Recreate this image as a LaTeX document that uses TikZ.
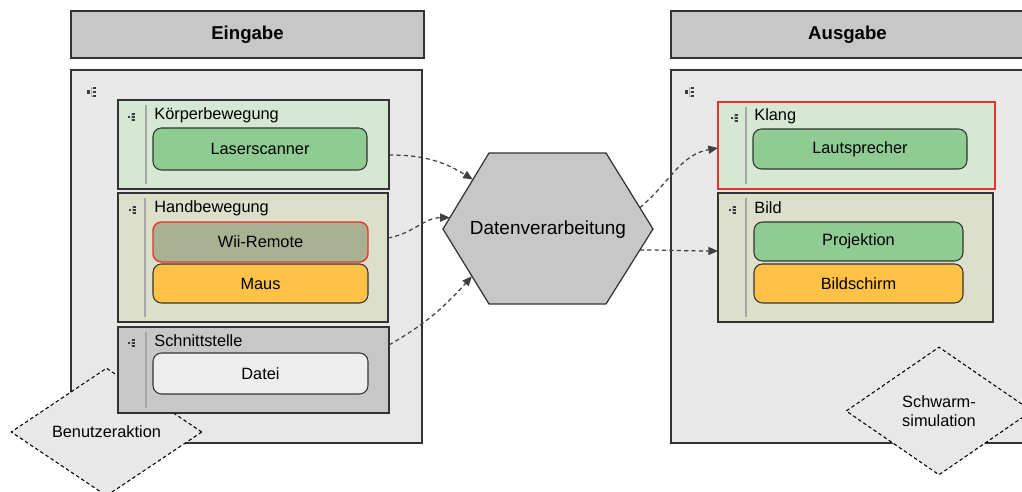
\documentclass[tikz,border=0pt]{standalone}
\usepackage{fontspec}
\setmainfont{Liberation Sans}
\usetikzlibrary{shapes.geometric,arrows.meta,calc}

\definecolor{hdrgray}{HTML}{C6C7C6}
\definecolor{panelgray}{HTML}{E8E8E8}
\definecolor{greenlight}{HTML}{D5E8D4}
\definecolor{greenbox}{HTML}{8ECC93}
\definecolor{olive}{HTML}{DCDFCA}
\definecolor{wiigray}{HTML}{A9B193}
\definecolor{orangebox}{HTML}{FFC247}
\definecolor{dateigray}{HTML}{EEEEEE}
\definecolor{redline}{HTML}{E8332A}
\definecolor{linec}{HTML}{333333}
\definecolor{arrowc}{HTML}{404040}
\definecolor{iconc}{HTML}{3A3A3A}

\newcommand{\pxu}{0.02cm}

\begin{document}
\begin{tikzpicture}[x=0.02cm,y=-0.02cm,
  sz/.style 2 args={minimum width=#1*\pxu, minimum height=#2*\pxu},
  frame/.style={draw=linec, line width=0.7pt, inner sep=0pt, outer sep=0pt, anchor=north west},
  header/.style={frame, fill=hdrgray, font=\fontsize{10.6}{12}\selectfont\bfseries},
  panel/.style={frame, fill=panelgray},
  section/.style={frame, line width=0.6pt},
  title/.style={anchor=west, inner sep=0pt, font=\fontsize{9.3}{11}\selectfont},
  item/.style={draw=linec, line width=0.6pt, rounded corners=0.17cm, inner sep=0pt,
    outer sep=0pt, anchor=north west, font=\fontsize{9.3}{11}\selectfont},
  sepline/.style={draw=black!35, line width=0.6pt},
  note/.style={diamond, draw=black, line width=0.6pt, dash pattern=on 2pt off 1.5pt,
    fill=panelgray, inner sep=0pt, align=center, font=\fontsize{9.3}{11}\selectfont},
  flow/.style={draw=arrowc, line width=0.7pt, dash pattern=on 2.4pt off 1.8pt,
    -{Triangle[length=5.5pt,width=4.6pt]}},
  treeicon/.pic={
    \fill[iconc] (-5.5,-1.7) rectangle (-2.2,1.7);
    \draw[black!30, line width=0.3pt] (-1,-5) -- (-1,5) (-1,-4) -- (0.5,-4) (-1,0) -- (0.5,0) (-1,4) -- (0.5,4);
    \fill[iconc] (0.6,-5) rectangle (4.2,-3);
    \fill[iconc] (0.6,-1) rectangle (4.2,1);
    \fill[iconc] (0.6,3) rectangle (4.2,5);
  }
]
\useasboundingbox (0,0) rectangle (1022,492);
\clip (0,0) rectangle (1022,492);

% ---------- input side ----------
\node[header, sz={353}{47}] (inhead) at (71,11) {Eingabe};
\node[panel, sz={351}{373}] (inpanel) at (71,70) {};
\pic at (92,92) {treeicon};
\node[note, sz={191}{128}] (user) at (106.5,432) {Benutzeraktion};

% body movement
\node[section, fill=greenlight, sz={271}{89}] (koerper) at (118,100) {};
\draw[sepline] (146,105) -- (146,184);
\pic[scale=0.75] at (132,117) {treeicon};
\node[title] (koerpert) at (154,115) {Körperbewegung};
\node[item, fill=greenbox, sz={214}{42}] (laser) at (153,128) {Laserscanner};

% hand movement
\node[section, fill=olive, sz={270}{129}] (hand) at (118,193) {};
\draw[sepline] (145,198) -- (145,317);
\pic[scale=0.75] at (133,210) {treeicon};
\node[title] (handt) at (154,208) {Handbewegung};
\node[item, fill=wiigray, draw=redline, line width=0.8pt, sz={215}{40}] (wii) at (153,222) {Wii-Remote};
\node[item, fill=orangebox, sz={215}{39}] (maus) at (153,264) {Maus};

% interface
\node[section, fill=hdrgray, sz={271}{86}] (schnitt) at (118,327) {};
\draw[sepline] (146,332) -- (146,408);
\pic[scale=0.75] at (132,343) {treeicon};
\node[title] (schnittt) at (154,341) {Schnittstelle};
\node[item, fill=dateigray, sz={215}{41}] (datei) at (153,353) {Datei};

% ---------- processing ----------
\draw[draw=linec, line width=0.7pt, fill=hdrgray]
  (443,229) coordinate (hl) -- (489,153) coordinate (htl) -- (606,153) coordinate (htr)
  -- (653,229) coordinate (hr) -- (606,304) coordinate (hbr) -- (489,304) coordinate (hbl) -- cycle;
\node[inner sep=0pt, font=\fontsize{10.8}{13}\selectfont] (proc) at (548,230) {Datenverarbeitung};

% ---------- output side ----------
\node[header, sz={353}{47}] (outhead) at (671,11) {Ausgabe};
\node[panel, sz={353}{373}] (outpanel) at (671,70) {};
\pic at (690,92) {treeicon};
\node[note, sz={186}{128}] (schwarm) at (939,411) {Schwarm-\\simulation};

% sound
\node[section, fill=greenlight, draw=redline, line width=1pt, sz={277}{87}] (klang) at (718,102) {};
\draw[sepline] (746,107) -- (746,184);
\pic[scale=0.75] at (735,118) {treeicon};
\node[title] (klangt) at (754,116) {Klang};
\node[item, fill=greenbox, sz={214}{40}] (laut) at (753,129) {Lautsprecher};

% image
\node[section, fill=olive, sz={275}{129}] (bild) at (718,193) {};
\draw[sepline] (746,198) -- (746,317);
\pic[scale=0.75] at (733,210) {treeicon};
\node[title] (bildt) at (754,208) {Bild};
\node[item, fill=greenbox, sz={209}{39}] (proj) at (754,222) {Projektion};
\node[item, fill=orangebox, sz={209}{39}] (schirm) at (754,264) {Bildschirm};

% ---------- connectors ----------
\coordinate (in1) at ($(hl)!0.65!(htl)$);
\coordinate (in2) at ($(hl)!0.15!(htl)$);
\coordinate (in3) at ($(hl)!0.63!(hbl)$);
\coordinate (out1) at ($(htr)!0.72!(hr)$);
\coordinate (out2) at ($(hr)!0.28!(hbr)$);

\draw[flow] ([yshift=-0.21cm]koerper.east) to[out=0, in=148] (in1);
\draw[flow] ([yshift=0.39cm]hand.east) to[out=10, in=180] (in2);
\draw[flow] ([yshift=0.5cm]schnitt.east) to[out=30, in=228] (in3);
\draw[flow] (out1) to[out=40, in=190] ([yshift=-0.05cm]klang.west);
\draw[flow] (out2) to[out=0, in=180] ([yshift=0.13cm]bild.west);
\end{tikzpicture}
\end{document}
